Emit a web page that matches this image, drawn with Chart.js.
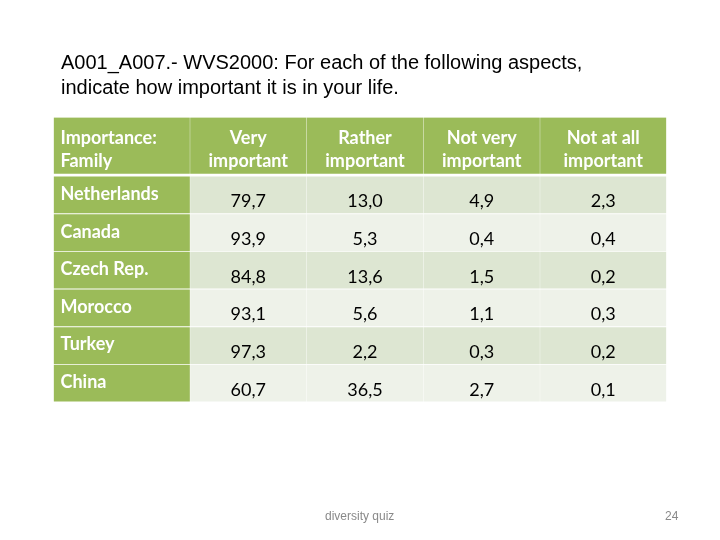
<!DOCTYPE html>
<html>
<head>
<meta charset="utf-8">
<script src="https://cdn.jsdelivr.net/npm/chart.js@4/dist/chart.umd.min.js"></script>
<style>
  html, body { margin: 0; padding: 0; background: #fff; }
  #page { position: relative; width: 720px; height: 540px; overflow: hidden; }
  #chart { position: absolute; left: 0; top: 0; }
  .title {
    position: absolute; left: 61px; top: 50px;
    font-family: "Liberation Sans", Arial, sans-serif; font-size: 20px; line-height: 24.5px; color: #000;
  }
  .foot { position: absolute; top: 509px; font-family: "Liberation Sans", Arial, sans-serif; font-size: 12px; color: #898989; }
</style>
</head>
<body>
<div id="page">
  <canvas id="chart" width="720" height="540"></canvas>
  <div class="title">A001_A007.- WVS2000: For each of the following aspects,<br>indicate how important it is in your life.</div>
  <div class="foot" style="left:325px">diversity quiz</div>
  <div class="foot" style="left:665px">24</div>
</div>
<script>
// table content
var HEADERS = [['Importance:', 'Family'], ['Very', 'important'], ['Rather', 'important'], ['Not very', 'important'], ['Not at all', 'important']];
var COUNTRIES = ['Netherlands', 'Canada', 'Czech Rep.', 'Morocco', 'Turkey', 'China'];
var VERY     = [79.7, 93.9, 84.8, 93.1, 97.3, 60.7];
var RATHER   = [13.0, 5.3, 13.6, 5.6, 2.2, 36.5];
var NOT_VERY = [4.9, 0.4, 1.5, 1.1, 0.3, 2.7];
var NOT_AT_ALL = [2.3, 0.4, 0.2, 0.3, 0.2, 0.1];

// grid layout (scale units == pixels of the table area)
var COL_EDGES = [0, 136.5, 253, 370, 486.5, 613];
var HEAD_H = 56, ROW_TOP = 58.5, ROW_H = 37.6;
var GREEN = '#9bbb59', BAND1 = '#dde6d2', BAND2 = '#eef2e9';

function colRange(c) { return [COL_EDGES[c] + 0.5, COL_EDGES[c + 1] - 0.5]; }
function rowMid(r) { return ROW_TOP + ROW_H * r + ROW_H / 2; }
function fmt(v) { return v.toFixed(1).replace('.', ','); }
var bands = COUNTRIES.map(function (_, r) { return r % 2 ? BAND2 : BAND1; });

var datasets = [{
  kind: 'head',
  data: HEADERS.map(function (h, c) { return { y: HEAD_H / 2, x: colRange(c), txt: h }; }),
  backgroundColor: GREEN,
  barThickness: HEAD_H
}, {
  kind: 'label',
  data: COUNTRIES.map(function (name, r) { return { y: rowMid(r), x: colRange(0), txt: name }; }),
  backgroundColor: GREEN,
  barThickness: ROW_H - 1.5
}];
[VERY, RATHER, NOT_VERY, NOT_AT_ALL].forEach(function (vals, i) {
  datasets.push({
    kind: 'value',
    data: vals.map(function (v, r) { return { y: rowMid(r), x: colRange(i + 1), txt: fmt(v) }; }),
    backgroundColor: bands,
    barThickness: ROW_H - 1.5
  });
});

// draws the cell texts on top of the bars
var cellText = {
  id: 'cellText',
  afterDatasetsDraw: function (chart) {
    var ctx = chart.ctx;
    ctx.save();
    chart.data.datasets.forEach(function (ds, di) {
      var meta = chart.getDatasetMeta(di);
      meta.data.forEach(function (bar, i) {
        var p = bar.getProps(['x', 'y', 'base', 'height'], true);
        var left = Math.min(p.x, p.base), right = Math.max(p.x, p.base);
        var top = p.y - p.height / 2;
        var txt = ds.data[i].txt;
        if (ds.kind === 'head') {
          ctx.fillStyle = '#fff';
          ctx.font = 'bold 18px Lato, "Open Sans", sans-serif';
          ctx.textAlign = i === 0 ? 'left' : 'center';
          var tx = i === 0 ? left + 6.5 : (left + right) / 2;
          ctx.fillText(txt[0], tx, top + 26);
          ctx.fillText(txt[1], tx, top + 49);
        } else if (ds.kind === 'label') {
          ctx.fillStyle = '#fff';
          ctx.font = 'bold 18px Lato, "Open Sans", sans-serif';
          ctx.textAlign = 'left';
          ctx.fillText(txt, left + 6.5, top + 23);
        } else {
          ctx.fillStyle = '#000';
          ctx.font = '18px Lato, "Open Sans", sans-serif';
          ctx.textAlign = 'center';
          ctx.fillText(txt, (left + right) / 2, top + 30.5);
        }
      });
    });
    ctx.restore();
  }
};

new Chart(document.getElementById('chart'), {
  type: 'bar',
  data: { datasets: datasets },
  plugins: [cellText],
  options: {
    indexAxis: 'y',
    responsive: false,
    animation: false,
    events: [],
    datasets: { bar: { grouped: false, borderWidth: 0 } },
    layout: { padding: { left: 53.5, right: 53.5, top: 117.5, bottom: 138 } },
    plugins: { legend: { display: false }, tooltip: { enabled: false } },
    scales: {
      x: { type: 'linear', display: false, offset: false, min: 0, max: COL_EDGES[COL_EDGES.length - 1] },
      y: { type: 'linear', display: false, offset: false, reverse: true, min: 0, max: ROW_TOP + ROW_H * COUNTRIES.length }
    }
  }
});
</script>
</body>
</html>
